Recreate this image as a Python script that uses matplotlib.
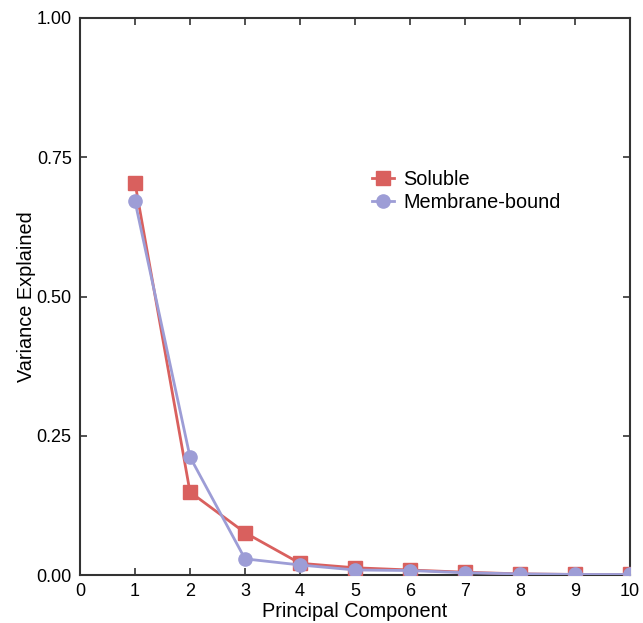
import matplotlib
matplotlib.use("Agg")
import matplotlib.pyplot as plt

plt.rcParams['font.family'] = ['Liberation Sans', 'DejaVu Sans']

components = [1, 2, 3, 4, 5, 6, 7, 8, 9, 10]
soluble = [0.704, 0.149, 0.076, 0.021, 0.013, 0.009, 0.005, 0.002, 0.001, 0.001]
membrane = [0.671, 0.212, 0.029, 0.018, 0.009, 0.008, 0.004, 0.002, 0.001, 0.001]

x_ticks = [0, 1, 2, 3, 4, 5, 6, 7, 8, 9, 10]
y_ticks = [0.00, 0.25, 0.50, 0.75, 1.00]

red = '#d9605e'
purple = '#9d9dd6'
spine_col = '#333333'

fig = plt.figure(figsize=(6.43, 6.23), dpi=100)
ax = fig.add_axes([80 / 643, 1 - 575 / 623, 550 / 643, 557 / 623])

ax.plot(components, soluble, color=red, lw=2.0, marker='s', ms=10,
        label='Soluble', zorder=3)
ax.plot(components, membrane, color=purple, lw=2.0, marker='o', ms=9.5,
        label='Membrane-bound', zorder=4)

ax.set_xlim(0, 10)
ax.set_ylim(0, 1)
ax.set_xticks(x_ticks)
ax.set_yticks(y_ticks)
ax.set_yticklabels([f'{v:.2f}' for v in y_ticks])
ax.tick_params(direction='in', length=5, width=1.2, color=spine_col,
               labelsize=13, top=True, right=True, pad=6)
for s in ax.spines.values():
    s.set_color(spine_col)
    s.set_linewidth(1.5)

ax.set_xlabel('Principal Component', fontsize=14.3, labelpad=1)
ax.set_ylabel('Variance Explained', fontsize=14.3, labelpad=0)

ax.legend(loc='upper left', bbox_to_anchor=(0.516, 0.742), frameon=False,
          fontsize=14.3, handlelength=1.1, handletextpad=0.5, labelspacing=0.2,
          borderaxespad=0)

fig.savefig('out.png', dpi=100)
